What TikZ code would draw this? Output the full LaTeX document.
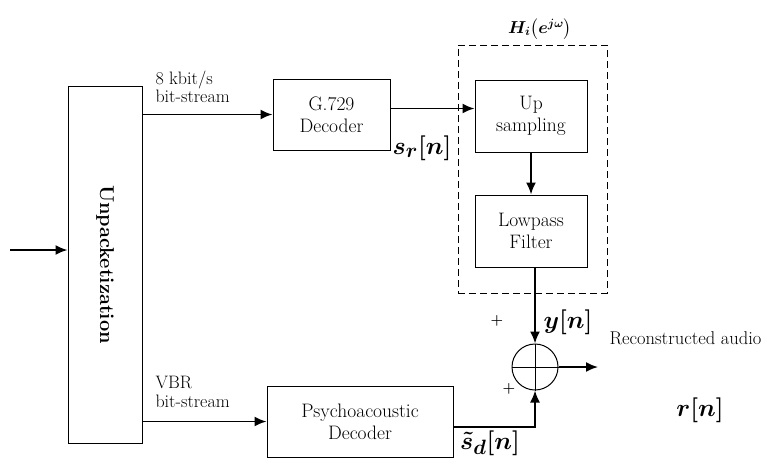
\documentclass[tikz,border=0pt]{standalone}
\usepackage{amsmath}
\usetikzlibrary{arrows.meta,positioning}

\begin{document}
\begin{tikzpicture}
	[x=1pt,y=-1pt,
	block/.style={shape=rectangle,draw,line width=1pt,align=center,font=\fontsize{19.5}{22}\selectfont},
	flow/.style={line width=1.8pt,-{Latex[length=12pt,width=10pt]}},
	sig/.style={inner sep=1pt,font=\Huge\boldmath},
	txt/.style={align=left,font=\fontsize{18}{18.5}\selectfont}]
	\useasboundingbox (0,0) rectangle (767,460);

	\node [block,minimum width=74,minimum height=357] (1) at (105,264.5) {\rotatebox{-90}{\fontsize{20}{20}\selectfont\bfseries Unpacketization}};
	\node [block,minimum width=117,minimum height=71] (2) at (331.5,114.5) {G.729\\Decoder};
	\node [block,minimum width=112,minimum height=72] (3) at (531,116) {Up\\sampling};
	\node [block,minimum width=112,minimum height=72] (4) at (531,231) {Lowpass\\Filter};
	\node [draw,line width=0.8pt,dash pattern=on 7pt off 4pt,minimum width=149,minimum height=248] (5) at (532.5,169) {};
	\node [shape=circle,draw,line width=1pt,minimum size=46] (6) at (535,367) {};
	\node [block,minimum width=186,minimum height=71] (7) at (360,421.5) {Psychoacoustic\\Decoder};

	\coordinate (8) at (10,250);
	\coordinate (9) at (598,367);

	\node [txt,anchor=west] (10) at (152,87) {8 kbit/s\\bit-stream};
	\node [txt,anchor=west] (11) at (152,392) {VBR\\bit-stream};
	\node [sig] (12) at (422,148) {$s_r[n]$};
	\node [sig] (13) at (568,322) {$y[n]$};
	\node [sig] (14) at (490,443) {$\tilde{s}_d[n]$};
	\node [sig] (15) at (700,410) {$r[n]$};
	\node [inner sep=0pt,font=\LARGE\boldmath] (16) at (540,29) {$H_i\bigl(e^{j\omega}\bigr)$};
	\node [txt,anchor=west,font=\fontsize{18.5}{19}\selectfont] (17) at (606,338) {Reconstructed audio};
	\node [font=\Large\bfseries] (18) at (497,321) {+};
	\node [font=\Large\bfseries] (19) at (509,389) {+};

	\draw [flow] (8) -- (8 -| 1.west);
	\draw [flow] (1.east |- 2) -- (2);
	\draw [flow] ([yshift=6pt]2.east) -- ([yshift=6pt]2.east -| 3.west);
	\draw [flow] (3) -- (4);
	\draw [flow] (4.south -| 6) -- (6.north);
	\draw [flow] (1.east |- 7) -- (7);
	\draw [flow] ([yshift=-5.5pt]7.east) -| (6.south);
	\draw [flow] (6.east) -- (9);
	\draw [line width=1pt] (6.north) -- (6.south) (6.west) -- (6.east);

\end{tikzpicture}
\end{document}
